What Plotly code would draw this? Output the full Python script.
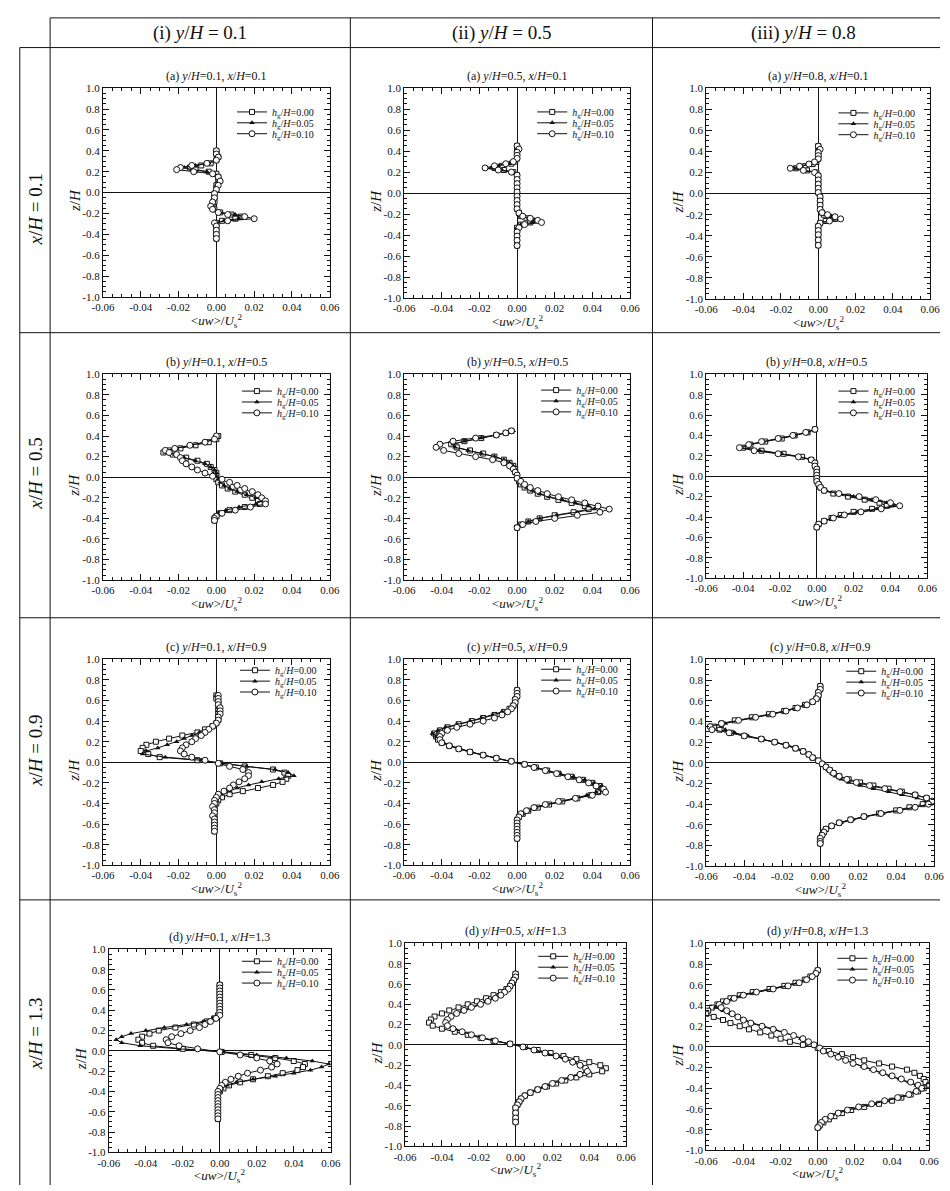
import plotly.graph_objects as go

W, H = 950, 1191

# ---------------------------------------------------------------- labels
uw_ticks = [-0.06, -0.04, -0.02, 0.0, 0.02, 0.04, 0.06]
uw_tick_text = ["-0.06", "-0.04", "-0.02", "0.00", "0.02", "0.04", "0.06"]
z_ticks = [1.0, 0.8, 0.6, 0.4, 0.2, 0.0, -0.2, -0.4, -0.6, -0.8, -1.0]
z_tick_text = ["1.0", "0.8", "0.6", "0.4", "0.2", "0.0", "-0.2", "-0.4", "-0.6", "-0.8", "-1.0"]

hg_values = ["0.00", "0.05", "0.10"]
y_stations = ["0.1", "0.5", "0.8"]
x_stations = ["0.1", "0.5", "0.9", "1.3"]
panel_letters = ["a", "b", "c", "d"]
column_heads = ["(i)", "(ii)", "(iii)"]

# ---------------------------------------------------------------- (a) x/H = 0.1
z_a1 = [0.40, 0.37, 0.34, 0.31, 0.28, 0.26, 0.24, 0.22, 0.20, 0.18, 0.15, 0.11, 0.07, 0.03, -0.01,
        -0.05, -0.09, -0.13, -0.16, -0.19, -0.21, -0.23, -0.25, -0.27, -0.29, -0.32, -0.36, -0.40, -0.44]
uw_a1_000 = [0.000, 0.000, 0.001, 0.000, -0.003, -0.008, -0.014, -0.011, -0.004, 0.000, 0.001, 0.001, 0.000, 0.000, -0.001,
             -0.001, -0.001, -0.002, -0.001, 0.002, 0.008, 0.013, 0.010, 0.003, 0.000, 0.000, 0.000, 0.000, 0.000]
uw_a1_005 = [0.000, 0.000, 0.000, 0.000, -0.004, -0.011, -0.017, -0.013, -0.005, -0.001, 0.001, 0.001, 0.000, 0.000, -0.001,
             -0.001, -0.002, -0.002, -0.001, 0.002, 0.010, 0.015, 0.012, 0.004, 0.000, 0.000, 0.000, 0.000, 0.000]
uw_a1_010 = [0.000, 0.000, 0.001, 0.000, -0.005, -0.013, -0.019, -0.021, -0.012, -0.002, 0.001, 0.002, 0.001, 0.000, -0.001,
             -0.001, -0.002, -0.003, -0.002, 0.001, 0.006, 0.015, 0.020, 0.006, -0.001, 0.000, 0.000, 0.000, 0.000]

z_a2 = [0.45, 0.42, 0.39, 0.36, 0.33, 0.30, 0.28, 0.26, 0.24, 0.22, 0.20, 0.17, 0.13, 0.09, 0.05, 0.01,
        -0.03, -0.07, -0.11, -0.15, -0.19, -0.22, -0.24, -0.26, -0.28, -0.30, -0.33, -0.37, -0.41, -0.45, -0.50]
uw_a2_000 = [0.000, 0.000, 0.000, 0.000, 0.000, -0.001, -0.003, -0.008, -0.012, -0.007, -0.002, 0.000, 0.000, 0.000, 0.000, 0.000,
             0.000, 0.000, 0.000, 0.000, 0.001, 0.002, 0.005, 0.008, 0.007, 0.002, 0.000, 0.000, 0.000, 0.000, 0.000]
uw_a2_005 = [0.000, 0.000, 0.000, 0.000, 0.000, -0.001, -0.004, -0.010, -0.014, -0.008, -0.002, 0.000, 0.000, 0.000, 0.000, 0.000,
             0.000, 0.000, 0.000, 0.000, 0.001, 0.002, 0.006, 0.009, 0.008, 0.002, 0.000, 0.000, 0.000, 0.000, 0.000]
uw_a2_010 = [0.000, 0.001, 0.000, 0.000, 0.000, -0.002, -0.006, -0.012, -0.017, -0.010, -0.003, 0.000, 0.000, 0.000, 0.000, 0.000,
             0.000, 0.000, 0.000, 0.000, 0.001, 0.003, 0.007, 0.011, 0.013, 0.004, 0.001, 0.000, 0.000, 0.000, 0.000]

z_a3 = [0.45, 0.42, 0.39, 0.36, 0.33, 0.30, 0.28, 0.26, 0.24, 0.22, 0.20, 0.17, 0.13, 0.09, 0.05, 0.01,
        -0.03, -0.07, -0.11, -0.15, -0.18, -0.20, -0.22, -0.24, -0.26, -0.28, -0.31, -0.35, -0.39, -0.44, -0.49]
uw_a3_000 = [0.000, 0.000, 0.000, 0.000, 0.000, -0.001, -0.003, -0.007, -0.012, -0.006, -0.001, 0.000, 0.000, 0.000, 0.000, 0.000,
             0.001, 0.001, 0.001, 0.001, 0.002, 0.003, 0.006, 0.009, 0.004, 0.001, 0.000, 0.000, 0.000, 0.000, 0.000]
uw_a3_005 = [0.000, 0.000, 0.000, 0.000, 0.000, -0.001, -0.004, -0.009, -0.013, -0.007, -0.001, 0.000, 0.000, 0.000, 0.000, 0.000,
             0.001, 0.001, 0.001, 0.001, 0.002, 0.004, 0.007, 0.010, 0.005, 0.001, 0.000, 0.000, 0.000, 0.000, 0.000]
uw_a3_010 = [0.000, 0.001, 0.000, 0.000, 0.000, -0.002, -0.005, -0.010, -0.015, -0.008, -0.002, 0.000, 0.000, 0.000, 0.000, 0.000,
             0.001, 0.001, 0.001, 0.001, 0.002, 0.005, 0.009, 0.012, 0.006, 0.001, 0.000, 0.000, 0.000, 0.000, 0.000]

# ---------------------------------------------------------------- (b) x/H = 0.5
z_b1 = [0.40, 0.37, 0.34, 0.31, 0.28, 0.26, 0.24, 0.22, 0.19, 0.16, 0.13, 0.10, 0.07, 0.04, 0.01,
        -0.02, -0.05, -0.08, -0.11, -0.14, -0.17, -0.20, -0.23, -0.26, -0.29, -0.32, -0.35, -0.38, -0.40, -0.42]
uw_b1_000 = [0.001, 0.000, -0.004, -0.011, -0.019, -0.025, -0.028, -0.023, -0.016, -0.010, -0.005, -0.003, -0.001, 0.000, 0.000,
             0.000, 0.001, 0.003, 0.006, 0.010, 0.015, 0.019, 0.022, 0.023, 0.015, 0.007, 0.002, 0.000, -0.001, -0.001]
uw_b1_005 = [0.000, -0.001, -0.006, -0.013, -0.021, -0.026, -0.027, -0.022, -0.017, -0.011, -0.006, -0.003, -0.001, 0.000, 0.000,
             0.001, 0.002, 0.004, 0.007, 0.011, 0.016, 0.021, 0.024, 0.021, 0.012, 0.005, 0.001, -0.001, -0.001, -0.001]
uw_b1_010 = [0.000, -0.001, -0.006, -0.014, -0.022, -0.027, -0.025, -0.021, -0.019, -0.018, -0.016, -0.013, -0.010, -0.006, -0.002,
             0.003, 0.007, 0.011, 0.015, 0.019, 0.022, 0.024, 0.026, 0.026, 0.018, 0.010, 0.003, 0.000, -0.001, -0.001]

z_b2 = [0.45, 0.43, 0.41, 0.38, 0.35, 0.32, 0.29, 0.26, 0.23, 0.20, 0.17, 0.14, 0.11, 0.08, 0.05, 0.02,
        -0.01, -0.04, -0.07, -0.10, -0.13, -0.16, -0.19, -0.22, -0.25, -0.28, -0.31, -0.34, -0.37, -0.40, -0.43, -0.46, -0.49]
uw_b2_000 = [-0.003, -0.006, -0.011, -0.019, -0.028, -0.035, -0.032, -0.025, -0.018, -0.012, -0.007, -0.004, -0.002, -0.001, -0.001, 0.000,
             0.000, 0.001, 0.002, 0.004, 0.007, 0.011, 0.016, 0.022, 0.029, 0.036, 0.038, 0.030, 0.020, 0.012, 0.006, 0.002, 0.000]
uw_b2_005 = [-0.002, -0.006, -0.011, -0.019, -0.028, -0.034, -0.033, -0.026, -0.019, -0.012, -0.007, -0.004, -0.002, -0.001, -0.001, 0.000,
             0.000, 0.001, 0.003, 0.005, 0.008, 0.012, 0.017, 0.024, 0.031, 0.038, 0.041, 0.032, 0.021, 0.012, 0.006, 0.002, 0.000]
uw_b2_010 = [-0.003, -0.006, -0.011, -0.022, -0.034, -0.041, -0.043, -0.039, -0.031, -0.022, -0.013, -0.007, -0.004, -0.002, -0.001, 0.000,
             0.000, 0.002, 0.004, 0.007, 0.011, 0.016, 0.022, 0.029, 0.036, 0.043, 0.049, 0.044, 0.032, 0.020, 0.010, 0.003, 0.000]

z_b3 = [0.46, 0.43, 0.40, 0.37, 0.34, 0.31, 0.28, 0.25, 0.22, 0.19, 0.16, 0.13, 0.10, 0.07, 0.04, 0.01,
        -0.02, -0.05, -0.08, -0.11, -0.14, -0.17, -0.20, -0.23, -0.26, -0.29, -0.32, -0.35, -0.38, -0.41, -0.44, -0.47, -0.50]
uw_b3_000 = [-0.001, -0.005, -0.012, -0.019, -0.028, -0.036, -0.040, -0.030, -0.018, -0.008, -0.003, -0.001, -0.001, 0.000, 0.000, 0.000,
             0.000, 0.000, 0.001, 0.002, 0.004, 0.009, 0.017, 0.026, 0.034, 0.038, 0.030, 0.020, 0.013, 0.008, 0.004, 0.001, 0.000]
uw_b3_005 = [-0.001, -0.005, -0.012, -0.020, -0.029, -0.037, -0.041, -0.031, -0.019, -0.009, -0.003, -0.001, -0.001, 0.000, 0.000, 0.000,
             0.000, 0.000, 0.001, 0.002, 0.005, 0.011, 0.020, 0.030, 0.038, 0.042, 0.033, 0.022, 0.014, 0.008, 0.004, 0.001, 0.000]
uw_b3_010 = [-0.001, -0.006, -0.013, -0.021, -0.030, -0.037, -0.042, -0.034, -0.021, -0.010, -0.003, -0.001, -0.001, 0.000, 0.000, 0.000,
             0.000, 0.000, 0.001, 0.002, 0.004, 0.012, 0.023, 0.032, 0.040, 0.045, 0.035, 0.024, 0.015, 0.009, 0.004, 0.001, 0.000]

# ---------------------------------------------------------------- (c) x/H = 0.9
z_c1 = [0.65, 0.62, 0.59, 0.56, 0.53, 0.50, 0.47, 0.44, 0.41, 0.38,
        0.35, 0.32, 0.29, 0.26, 0.23, 0.20, 0.17, 0.14, 0.11, 0.08,
        0.05, 0.02, -0.01, -0.04, -0.07, -0.10, -0.13, -0.16, -0.19, -0.22,
        -0.25, -0.28, -0.31, -0.34, -0.37, -0.40, -0.43, -0.46, -0.49, -0.52,
        -0.55, -0.58, -0.61, -0.64, -0.67]
uw_c1_000 = [0.000, 0.000, 0.001, 0.001, 0.001, 0.001, 0.001, 0.001, 0.001, 0.000,
             -0.002, -0.006, -0.010, -0.018, -0.025, -0.032, -0.037, -0.039, -0.040, -0.036,
             -0.030, -0.010, 0.002, 0.015, 0.030, 0.036, 0.038, 0.037, 0.035, 0.030,
             0.022, 0.014, 0.007, 0.003, 0.001, 0.000, -0.001, -0.001, -0.001, -0.001,
             -0.001, -0.001, -0.001, -0.001, -0.001]
uw_c1_005 = [0.000, 0.001, 0.001, 0.001, 0.001, 0.001, 0.001, 0.001, 0.001, 0.000,
             -0.001, -0.004, -0.009, -0.013, -0.017, -0.021, -0.026, -0.031, -0.037, -0.039,
             -0.027, -0.008, 0.003, 0.016, 0.031, 0.038, 0.041, 0.033, 0.024, 0.017,
             0.011, 0.007, 0.003, 0.001, 0.000, -0.001, -0.001, -0.001, -0.001, -0.001,
             -0.001, -0.001, -0.001, -0.001, -0.001]
uw_c1_010 = [0.001, 0.001, 0.001, 0.001, 0.002, 0.002, 0.002, 0.001, 0.001, 0.000,
             -0.002, -0.004, -0.006, -0.008, -0.011, -0.013, -0.016, -0.018, -0.019, -0.017,
             -0.013, -0.006, 0.001, 0.007, 0.014, 0.017, 0.017, 0.015, 0.012, 0.009,
             0.007, 0.004, 0.001, 0.000, -0.001, -0.001, -0.002, -0.001, -0.001, -0.002,
             -0.001, -0.001, -0.001, -0.001, -0.001]

z_c2 = [0.70, 0.67, 0.64, 0.61, 0.58, 0.55, 0.52, 0.49, 0.46, 0.43,
        0.40, 0.37, 0.34, 0.31, 0.28, 0.25, 0.22, 0.19, 0.16, 0.13,
        0.10, 0.07, 0.04, 0.01, -0.02, -0.05, -0.08, -0.11, -0.14, -0.17,
        -0.20, -0.23, -0.26, -0.29, -0.32, -0.35, -0.38, -0.41, -0.44, -0.47,
        -0.50, -0.53, -0.56, -0.59, -0.62, -0.65, -0.68, -0.71, -0.74]
uw_c2_000 = [0.000, 0.000, 0.000, -0.001, -0.001, -0.002, -0.004, -0.007, -0.012, -0.018,
             -0.024, -0.031, -0.037, -0.041, -0.044, -0.043, -0.042, -0.040, -0.036, -0.031,
             -0.025, -0.018, -0.011, -0.003, 0.004, 0.010, 0.016, 0.022, 0.029, 0.035,
             0.040, 0.044, 0.045, 0.043, 0.039, 0.032, 0.024, 0.017, 0.011, 0.006,
             0.003, 0.001, 0.000, 0.000, 0.000, 0.000, 0.000, 0.000, 0.000]
uw_c2_005 = [0.000, 0.000, 0.000, -0.001, -0.001, -0.002, -0.004, -0.008, -0.013, -0.019,
             -0.025, -0.032, -0.038, -0.042, -0.045, -0.043, -0.041, -0.039, -0.035, -0.030,
             -0.024, -0.018, -0.011, -0.003, 0.004, 0.010, 0.016, 0.023, 0.030, 0.036,
             0.041, 0.045, 0.046, 0.042, 0.037, 0.030, 0.023, 0.016, 0.010, 0.006,
             0.003, 0.001, 0.000, 0.000, 0.000, 0.000, 0.000, 0.000, 0.000]
uw_c2_010 = [0.000, 0.000, 0.000, -0.001, -0.001, -0.002, -0.003, -0.005, -0.008, -0.012,
             -0.018, -0.025, -0.032, -0.037, -0.040, -0.041, -0.041, -0.040, -0.036, -0.031,
             -0.025, -0.018, -0.011, -0.003, 0.004, 0.009, 0.015, 0.021, 0.027, 0.033,
             0.038, 0.042, 0.046, 0.047, 0.040, 0.031, 0.022, 0.015, 0.009, 0.005,
             0.002, 0.001, 0.000, 0.000, 0.000, 0.000, 0.000, 0.000, 0.000]

z_c3 = [0.74, 0.71, 0.68, 0.65, 0.62, 0.59, 0.56, 0.53, 0.50, 0.47,
        0.44, 0.41, 0.38, 0.35, 0.32, 0.29, 0.26, 0.23, 0.20, 0.17,
        0.14, 0.11, 0.08, 0.05, 0.02, -0.01, -0.04, -0.07, -0.10, -0.13,
        -0.16, -0.19, -0.22, -0.25, -0.28, -0.31, -0.34, -0.37, -0.40, -0.43,
        -0.46, -0.49, -0.52, -0.55, -0.58, -0.61, -0.64, -0.67, -0.70, -0.73,
        -0.76, -0.78]
uw_c3_000 = [0.000, 0.000, -0.001, -0.001, -0.002, -0.004, -0.008, -0.013, -0.019, -0.027,
             -0.036, -0.045, -0.052, -0.056, -0.053, -0.047, -0.040, -0.031, -0.024, -0.018,
             -0.013, -0.009, -0.006, -0.004, -0.001, 0.001, 0.003, 0.005, 0.007, 0.010,
             0.015, 0.021, 0.028, 0.036, 0.043, 0.050, 0.056, 0.058, 0.054, 0.047,
             0.040, 0.031, 0.023, 0.016, 0.010, 0.006, 0.003, 0.002, 0.001, 0.000,
             0.000, 0.000]
uw_c3_005 = [0.000, 0.000, -0.001, -0.001, -0.002, -0.004, -0.008, -0.012, -0.018, -0.026,
             -0.035, -0.043, -0.050, -0.052, -0.050, -0.045, -0.038, -0.030, -0.023, -0.017,
             -0.012, -0.009, -0.006, -0.003, -0.001, 0.001, 0.003, 0.004, 0.006, 0.008,
             0.011, 0.015, 0.021, 0.028, 0.036, 0.043, 0.051, 0.056, 0.058, 0.050,
             0.042, 0.033, 0.024, 0.017, 0.011, 0.006, 0.003, 0.002, 0.001, 0.000,
             0.000, 0.000]
uw_c3_010 = [0.000, 0.000, -0.001, -0.001, -0.002, -0.004, -0.007, -0.012, -0.018, -0.025,
             -0.034, -0.043, -0.052, -0.058, -0.057, -0.048, -0.040, -0.031, -0.024, -0.018,
             -0.013, -0.009, -0.006, -0.004, -0.001, 0.001, 0.003, 0.005, 0.007, 0.010,
             0.014, 0.019, 0.026, 0.034, 0.042, 0.050, 0.056, 0.059, 0.057, 0.050,
             0.042, 0.032, 0.023, 0.016, 0.010, 0.006, 0.003, 0.002, 0.001, 0.000,
             0.000, 0.000]

# ---------------------------------------------------------------- (d) x/H = 1.3
z_d1 = [0.65, 0.62, 0.59, 0.56, 0.53, 0.50, 0.47, 0.44, 0.41, 0.38,
        0.35, 0.32, 0.29, 0.26, 0.23, 0.20, 0.17, 0.14, 0.11, 0.08,
        0.05, 0.02, -0.01, -0.04, -0.07, -0.10, -0.13, -0.16, -0.19, -0.22,
        -0.25, -0.28, -0.31, -0.34, -0.37, -0.40, -0.43, -0.46, -0.49, -0.52,
        -0.55, -0.58, -0.61, -0.64, -0.67]
uw_d1_000 = [0.000, 0.000, 0.000, 0.000, 0.000, 0.000, 0.000, 0.000, 0.000, 0.000,
             -0.001, -0.003, -0.007, -0.014, -0.024, -0.033, -0.038, -0.042, -0.044, -0.042,
             -0.036, -0.020, 0.001, 0.017, 0.030, 0.040, 0.046, 0.045, 0.042, 0.034,
             0.026, 0.018, 0.011, 0.005, 0.002, 0.000, -0.001, -0.001, -0.001, -0.001,
             -0.001, -0.001, -0.001, -0.001, -0.001]
uw_d1_005 = [0.000, 0.000, 0.000, 0.000, 0.000, 0.000, 0.000, 0.000, 0.000, 0.000,
             -0.001, -0.004, -0.009, -0.018, -0.030, -0.040, -0.048, -0.053, -0.056, -0.053,
             -0.043, -0.022, 0.002, 0.020, 0.036, 0.050, 0.059, 0.055, 0.049, 0.040,
             0.030, 0.018, 0.009, 0.004, 0.001, 0.000, -0.001, -0.001, -0.001, -0.001,
             -0.001, -0.001, -0.001, -0.001, -0.001]
uw_d1_010 = [0.000, 0.000, 0.000, 0.000, 0.000, 0.000, 0.000, 0.000, 0.000, 0.000,
             0.000, -0.002, -0.005, -0.008, -0.011, -0.016, -0.021, -0.026, -0.029, -0.028,
             -0.022, -0.012, 0.000, 0.011, 0.020, 0.027, 0.031, 0.028, 0.022, 0.015,
             0.010, 0.006, 0.003, 0.001, 0.000, -0.001, -0.001, -0.001, -0.001, -0.001,
             -0.001, -0.001, -0.001, -0.001, -0.001]

z_d2 = [0.70, 0.67, 0.64, 0.61, 0.58, 0.55, 0.52, 0.49, 0.46, 0.43,
        0.40, 0.37, 0.34, 0.31, 0.28, 0.25, 0.22, 0.19, 0.16, 0.13,
        0.10, 0.07, 0.04, 0.01, -0.02, -0.05, -0.08, -0.11, -0.14, -0.17,
        -0.20, -0.23, -0.26, -0.29, -0.32, -0.35, -0.38, -0.41, -0.44, -0.47,
        -0.50, -0.53, -0.56, -0.59, -0.62, -0.67, -0.72, -0.76]
uw_d2_000 = [0.000, 0.000, -0.001, -0.002, -0.003, -0.005, -0.008, -0.012, -0.016, -0.021,
             -0.026, -0.031, -0.036, -0.040, -0.044, -0.046, -0.047, -0.045, -0.040, -0.033,
             -0.026, -0.019, -0.012, -0.003, 0.005, 0.012, 0.019, 0.026, 0.033, 0.040,
             0.046, 0.049, 0.047, 0.040, 0.033, 0.027, 0.022, 0.017, 0.012, 0.008,
             0.005, 0.003, 0.002, 0.001, 0.000, 0.000, 0.000, 0.000]
uw_d2_005 = [0.000, 0.000, -0.001, -0.002, -0.003, -0.004, -0.006, -0.009, -0.012, -0.016,
             -0.020, -0.025, -0.029, -0.033, -0.036, -0.038, -0.038, -0.037, -0.033, -0.029,
             -0.024, -0.018, -0.011, -0.003, 0.005, 0.011, 0.017, 0.023, 0.028, 0.032,
             0.036, 0.038, 0.038, 0.034, 0.029, 0.024, 0.020, 0.015, 0.011, 0.008,
             0.005, 0.003, 0.002, 0.001, 0.000, 0.000, 0.000, 0.000]
uw_d2_010 = [0.000, 0.000, -0.001, -0.002, -0.003, -0.004, -0.006, -0.008, -0.011, -0.015,
             -0.019, -0.024, -0.028, -0.032, -0.035, -0.037, -0.038, -0.037, -0.034, -0.029,
             -0.024, -0.018, -0.011, -0.003, 0.004, 0.010, 0.016, 0.022, 0.027, 0.031,
             0.035, 0.038, 0.039, 0.035, 0.030, 0.025, 0.020, 0.016, 0.012, 0.008,
             0.005, 0.003, 0.002, 0.001, 0.000, 0.000, 0.000, 0.000]

z_d3 = [0.74, 0.71, 0.68, 0.65, 0.62, 0.59, 0.56, 0.53, 0.50, 0.47,
        0.44, 0.41, 0.38, 0.35, 0.32, 0.29, 0.26, 0.23, 0.20, 0.17,
        0.14, 0.11, 0.08, 0.05, 0.02, -0.01, -0.04, -0.07, -0.10, -0.13,
        -0.16, -0.19, -0.22, -0.25, -0.28, -0.31, -0.34, -0.37, -0.40, -0.43,
        -0.46, -0.49, -0.52, -0.55, -0.58, -0.61, -0.64, -0.67, -0.70, -0.73,
        -0.76, -0.78]
uw_d3_000 = [0.000, -0.001, -0.004, -0.007, -0.012, -0.018, -0.026, -0.035, -0.042, -0.047,
             -0.051, -0.054, -0.057, -0.059, -0.060, -0.056, -0.051, -0.047, -0.042, -0.037,
             -0.031, -0.025, -0.020, -0.015, -0.008, 0.000, 0.006, 0.013, 0.019, 0.025,
             0.033, 0.040, 0.048, 0.052, 0.055, 0.057, 0.058, 0.060, 0.057, 0.054,
             0.050, 0.045, 0.040, 0.033, 0.025, 0.018, 0.013, 0.009, 0.006, 0.003,
             0.001, 0.000]
uw_d3_005 = [0.000, -0.001, -0.003, -0.006, -0.011, -0.017, -0.025, -0.034, -0.041, -0.046,
             -0.050, -0.053, -0.055, -0.051, -0.047, -0.043, -0.039, -0.035, -0.029, -0.023,
             -0.018, -0.013, -0.009, -0.005, -0.002, 0.001, 0.003, 0.007, 0.011, 0.015,
             0.019, 0.024, 0.029, 0.034, 0.039, 0.044, 0.049, 0.053, 0.055, 0.053,
             0.049, 0.044, 0.037, 0.030, 0.022, 0.016, 0.011, 0.007, 0.004, 0.002,
             0.001, 0.000]
uw_d3_010 = [0.000, -0.001, -0.003, -0.006, -0.010, -0.016, -0.024, -0.033, -0.040, -0.045,
             -0.049, -0.053, -0.052, -0.049, -0.046, -0.043, -0.040, -0.036, -0.030, -0.024,
             -0.018, -0.013, -0.008, -0.005, -0.002, 0.001, 0.003, 0.007, 0.011, 0.015,
             0.019, 0.025, 0.030, 0.035, 0.040, 0.045, 0.050, 0.054, 0.056, 0.053,
             0.049, 0.043, 0.036, 0.029, 0.022, 0.016, 0.011, 0.007, 0.004, 0.002,
             0.001, 0.000]

profiles = [
    [(z_a1, [uw_a1_000, uw_a1_005, uw_a1_010]),
     (z_a2, [uw_a2_000, uw_a2_005, uw_a2_010]),
     (z_a3, [uw_a3_000, uw_a3_005, uw_a3_010])],
    [(z_b1, [uw_b1_000, uw_b1_005, uw_b1_010]),
     (z_b2, [uw_b2_000, uw_b2_005, uw_b2_010]),
     (z_b3, [uw_b3_000, uw_b3_005, uw_b3_010])],
    [(z_c1, [uw_c1_000, uw_c1_005, uw_c1_010]),
     (z_c2, [uw_c2_000, uw_c2_005, uw_c2_010]),
     (z_c3, [uw_c3_000, uw_c3_005, uw_c3_010])],
    [(z_d1, [uw_d1_000, uw_d1_005, uw_d1_010]),
     (z_d2, [uw_d2_000, uw_d2_005, uw_d2_010]),
     (z_d3, [uw_d3_000, uw_d3_005, uw_d3_010])],
]

# ---------------------------------------------------------------- page layout (pixels)
# plot-area boxes: left, right, top, bottom
boxes = [
    [(94, 326, 83, 294), (402, 633, 83, 295), (711, 940, 83, 296)],
    [(94, 326, 372, 580), (402, 633, 372, 580), (711, 937, 372, 578)],
    [(94, 326, 660, 868), (402, 633, 660, 868), (711, 944, 660, 869)],
    [(100, 327, 953, 1158), (403, 629, 947, 1152), (711, 939, 947, 1156)],
]
# key block: left edge of the key, y of the first entry
legend_pos = [
    [(226, 107), (533, 107), (841, 108)],
    [(231, 389), (537, 388), (841, 389)],
    [(229, 671), (537, 670), (849, 672)],
    [(231, 965), (534, 960), (840, 962)],
]
KEY_STEP = 11
col_lines = [9, 40, 347, 656]
row_lines = [42, 330, 618, 903]
row_label_y = [205, 472, 752, 1038]

SERIF = "Liberation Serif"
INK = "#111111"


def fx(px):
    return px / W


def fy(py):
    return 1 - py / H


marker_styles = [
    dict(symbol="square", size=5, color="white", line=dict(color=INK, width=1)),
    dict(symbol="triangle-up", size=5, color=INK, line=dict(color=INK, width=0)),
    dict(symbol="circle", size=6, color="white", line=dict(color=INK, width=1)),
]

fig = go.Figure()
layout = dict(
    width=W, height=H, margin=dict(l=0, r=0, t=0, b=0),
    paper_bgcolor="white", plot_bgcolor="white", showlegend=True,
    font=dict(family=SERIF, size=11, color=INK),
)
annotations = []
shapes = []

k = 0
n_key = 0
for r in range(4):
    for c in range(3):
        k += 1
        sfx = "" if k == 1 else str(k)
        left, right, top, bottom = boxes[r][c]
        axis_common = dict(
            showline=True, linecolor=INK, linewidth=1, mirror="allticks",
            ticks="inside", ticklen=6, tickcolor=INK, tickwidth=1,
            showgrid=False, zeroline=True, zerolinecolor=INK, zerolinewidth=1,
            tickfont=dict(family=SERIF, size=11, color=INK),
        )
        layout["xaxis" + sfx] = dict(
            axis_common, domain=[fx(left), fx(right)], anchor="y" + sfx,
            range=[-0.06, 0.06], tickmode="array", tickvals=uw_ticks, ticktext=uw_tick_text,
            minor=dict(dtick=0.005, tick0=0, ticks="inside", ticklen=3, tickcolor=INK, showgrid=False),
        )
        layout["yaxis" + sfx] = dict(
            axis_common, domain=[fy(bottom), fy(top)], anchor="x" + sfx,
            range=[-1.0, 1.0], tickmode="array", tickvals=z_ticks, ticktext=z_tick_text,
            minor=dict(dtick=0.05, tick0=0, ticks="inside", ticklen=3, tickcolor=INK, showgrid=False),
        )

        z, series = profiles[r][c]
        lx, ly = legend_pos[r][c]
        for j, uw in enumerate(series):
            n_key += 1
            key = "legend" if n_key == 1 else "legend%d" % n_key
            fig.add_trace(go.Scatter(
                x=uw, y=z, mode="lines+markers",
                xaxis="x" + sfx, yaxis="y" + sfx, legend=key, showlegend=True,
                name="<i>h</i><sub>g</sub>/<i>H</i>=" + hg_values[j],
                line=dict(color=INK, width=1), marker=marker_styles[j],
            ))
            # one key block per series keeps the entries tightly stacked
            layout[key] = dict(
                x=fx(lx), y=fy(ly + j * KEY_STEP), xanchor="left", yanchor="middle",
                bgcolor="rgba(0,0,0,0)", borderwidth=0, visible=True,
                font=dict(family=SERIF, size=10, color=INK),
            )

        cx = (left + right) / 2
        annotations.append(dict(
            text="(%s) <i>y</i>/<i>H</i>=%s, <i>x</i>/<i>H</i>=%s" % (panel_letters[r], y_stations[c], x_stations[r]),
            x=fx(cx), y=fy(top - 3), xref="paper", yref="paper",
            xanchor="center", yanchor="bottom", showarrow=False,
            font=dict(family=SERIF, size=12, color=INK),
        ))
        annotations.append(dict(
            text="<i>z</i>/<i>H</i>", textangle=-90,
            x=fx(left - 29), y=fy((top + bottom) / 2 + 8), xref="paper", yref="paper",
            xanchor="center", yanchor="middle", showarrow=False,
            font=dict(family=SERIF, size=15, color=INK),
        ))
        annotations.append(dict(
            text="&lt;<i>uw</i>&gt;/<i>U</i><sub>s</sub><sup>2</sup>",
            x=fx(cx), y=fy(bottom + 24), xref="paper", yref="paper",
            xanchor="center", yanchor="middle", showarrow=False,
            font=dict(family=SERIF, size=13, color=INK),
        ))

# column headers and row labels of the table
for c in range(3):
    x0, x1 = col_lines[c + 1], (col_lines[c + 2] if c < 2 else 965)
    annotations.append(dict(
        text="%s <i>y</i>/<i>H</i> = %s" % (column_heads[c], y_stations[c]),
        x=fx((x0 + x1) / 2), y=fy(27), xref="paper", yref="paper",
        xanchor="center", yanchor="middle", showarrow=False,
        font=dict(family=SERIF, size=19, color=INK),
    ))
for r in range(4):
    annotations.append(dict(
        text="<i>x</i>/<i>H</i> = %s" % x_stations[r], textangle=-90,
        x=fx(25), y=fy(row_label_y[r]), xref="paper", yref="paper",
        xanchor="center", yanchor="middle", showarrow=False,
        font=dict(family=SERIF, size=19, color=INK),
    ))

# table rules
line_style = dict(color=INK, width=1)
shapes.append(dict(type="line", xref="paper", yref="paper",
                   x0=fx(col_lines[1]), x1=1, y0=fy(12), y1=fy(12), line=line_style))
for yl in row_lines:
    shapes.append(dict(type="line", xref="paper", yref="paper",
                       x0=fx(col_lines[0]), x1=1, y0=fy(yl), y1=fy(yl), line=line_style))
shapes.append(dict(type="line", xref="paper", yref="paper",
                   x0=fx(col_lines[0]), x1=fx(col_lines[0]), y0=fy(row_lines[0]), y1=0, line=line_style))
for xl in col_lines[1:]:
    shapes.append(dict(type="line", xref="paper", yref="paper",
                       x0=fx(xl), x1=fx(xl), y0=fy(12), y1=0, line=line_style))

layout["annotations"] = annotations
layout["shapes"] = shapes
fig.update_layout(**layout)
fig.write_html("out.html")
